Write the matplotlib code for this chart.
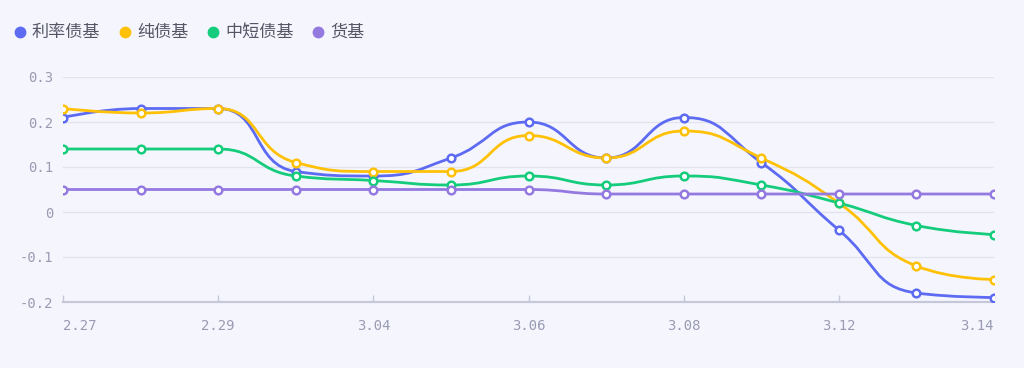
import matplotlib
matplotlib.use("Agg")
import matplotlib.pyplot as plt
import numpy as np
from matplotlib.path import Path
from matplotlib.patches import PathPatch
from matplotlib.lines import Line2D

plt.rcParams['font.family'] = ['Noto Sans CJK SC', 'DejaVu Sans']

dates = ["2.27", "2.28", "2.29", "3.01", "3.04", "3.05", "3.06",
         "3.07", "3.08", "3.11", "3.12", "3.13", "3.14"]
rate_bond = [0.21, 0.23, 0.23, 0.09, 0.08, 0.12, 0.20, 0.12, 0.21, 0.11, -0.04, -0.18, -0.19]
pure_bond = [0.23, 0.22, 0.23, 0.11, 0.09, 0.09, 0.17, 0.12, 0.18, 0.12, 0.02, -0.12, -0.15]
short_bond = [0.14, 0.14, 0.14, 0.08, 0.07, 0.06, 0.08, 0.06, 0.08, 0.06, 0.02, -0.03, -0.05]
money_fund = [0.05, 0.05, 0.05, 0.05, 0.05, 0.05, 0.05, 0.04, 0.04, 0.04, 0.04, 0.04, 0.04]

series_names = ["利率债基", "纯债基", "中短债基", "货基"]
series_vals = [rate_bond, pure_bond, short_bond, money_fund]
colors = ["#5D6BF3", "#FFC107", "#14CC7C", "#9479E0"]
bg = "#F5F6FD"

W, H = 1024, 368
fig = plt.figure(figsize=(W / 100, H / 100), dpi=100, facecolor=bg)
x0, x1, ytop, ybot = 63, 994, 77, 302
ax = fig.add_axes([x0 / W, (H - ybot) / H, (x1 - x0) / W, (ybot - ytop) / H])
ax.set_facecolor(bg)

ymin, ymax = -0.2, 0.3
n = len(dates)
xs = np.arange(n)
ax.set_xlim(0, n - 1)
ax.set_ylim(ymin, ymax)

sx = (x1 - x0) / (n - 1)
sy = (ybot - ytop) / (ymax - ymin)


def clamp(v, a, b):
    lo, hi = min(a, b), max(a, b)
    return min(max(v, lo), hi)


def smooth_path(xv, yv, smooth=0.5):
    # ECharts-5-style constrained bezier smoothing in pixel space
    P = np.column_stack([np.asarray(xv, float) * sx, np.asarray(yv, float) * sy])
    m = len(P)
    verts = [tuple(P[0])]
    codes = [Path.MOVETO]
    cp0 = P[0].copy()
    for i in range(1, m):
        x, y = P[i]
        if i < m - 1:
            px, py = P[i - 1]
            nx, ny = P[i + 1]
            vx, vy = nx - px, ny - py
            lp = np.hypot(x - px, y - py)
            ln = np.hypot(nx - x, ny - y)
            r = ln / (ln + lp)
            ncx = x + vx * smooth * r
            ncy = y + vy * smooth * r
            ncx = clamp(ncx, nx, x)
            ncy = clamp(ncy, ny, y)
            vx, vy = ncx - x, ncy - y
            c1x = x - vx * lp / ln
            c1y = y - vy * lp / ln
            c1x = clamp(c1x, px, x)
            c1y = clamp(c1y, py, y)
            vx, vy = x - c1x, y - c1y
            ncx = x + vx * ln / lp
            ncy = y + vy * ln / lp
        else:
            c1x, c1y = x, y
            ncx, ncy = x, y
        verts += [tuple(cp0), (c1x, c1y), (x, y)]
        codes += [Path.CURVE4] * 3
        cp0 = np.array([ncx, ncy])
    verts = np.array(verts)
    verts[:, 0] /= sx
    verts[:, 1] /= sy
    return Path(verts, codes)


for vals, c in zip(series_vals, colors):
    p = smooth_path(xs, vals)
    ax.add_patch(PathPatch(p, facecolor="none", edgecolor=c, lw=2.0,
                           capstyle="round", joinstyle="round", zorder=3))
    ax.plot(xs, vals, linestyle="none", marker="o", ms=5.5, mfc="white",
            mec=c, mew=1.8, zorder=4)

yt = [-0.2, -0.1, 0, 0.1, 0.2, 0.3]
ytl = ["-0.2", "-0.1", "0", "0.1", "0.2", "0.3"]
ax.set_yticks(yt)
ax.set_yticklabels(ytl)
for y in yt[1:]:
    ax.axhline(y, color="#E2E3EE", lw=1.0, zorder=1)

for s in ["top", "right", "left"]:
    ax.spines[s].set_visible(False)
ax.spines["bottom"].set_color("#C6C7D8")
ax.spines["bottom"].set_linewidth(1.6)

ax.set_xticks(xs[::2])
ax.set_xticklabels(dates[::2])
ax.tick_params(axis="x", direction="in", length=5, width=1, color="#C6C7D8",
               labelcolor="#9A9AB2", labelsize=10, pad=12)
ax.tick_params(axis="y", length=0, labelcolor="#9A9AB2", labelsize=10, pad=7)
for lab in ax.get_xticklabels() + ax.get_yticklabels():
    lab.set_family("DejaVu Sans Mono")
xl = ax.get_xticklabels()
xl[0].set_ha("left")
xl[-1].set_ha("right")

# legend
leg_dot_x = [20, 125, 213, 318]
leg_y = 32
for name, c, lx in zip(series_names, colors, leg_dot_x):
    fig.add_artist(Line2D([lx / W], [1 - leg_y / H], marker="o", ms=7.5,
                          color=c, mec=c, transform=fig.transFigure))
    fig.text((lx + 12) / W, 1 - leg_y / H, name, fontsize=12.3,
             color="#555566", va="center", ha="left")

fig.savefig("out.png", dpi=100, facecolor=bg)
